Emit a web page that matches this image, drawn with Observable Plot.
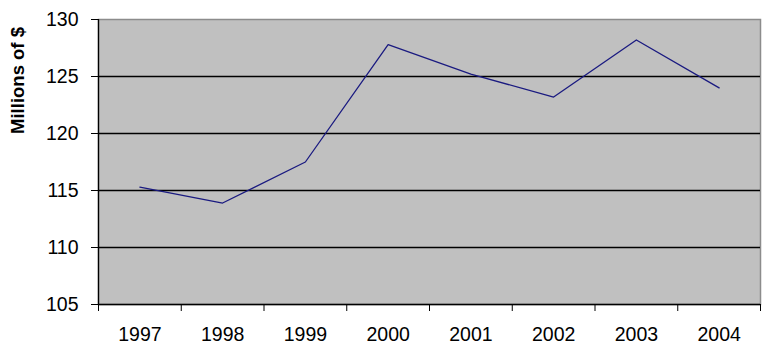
<!DOCTYPE html>
<html>
<head>
<meta charset="utf-8">
<script src="https://cdn.jsdelivr.net/npm/d3@7"></script>
<script src="https://cdn.jsdelivr.net/npm/@observablehq/plot@0.6"></script>
<style>
  html, body { margin: 0; padding: 0; background: #ffffff; }
  #chart svg { display: block; }
</style>
</head>
<body>
<div id="chart"></div>
<script>
const years = [1997, 1998, 1999, 2000, 2001, 2002, 2003, 2004];
const values = [115.3, 113.9, 117.5, 127.8, 125.2, 123.2, 128.2, 124.0];
const yTicks = [105, 110, 115, 120, 125, 130];
const gridValues = [110, 115, 120, 125];
const yLabel = "Millions of $";

const data = years.map((year, i) => ({year, value: values[i]}));
const boundaries = [...years.map(y => y - 0.5), years[years.length - 1] + 0.5];

const chart = Plot.plot({
  width: 768,
  height: 359,
  marginLeft: 98,
  marginRight: 8,
  marginTop: 19,
  marginBottom: 55,
  style: {fontFamily: "'Liberation Sans', Arial, sans-serif", fontSize: "19px", color: "#000", background: "#fff"},
  x: {domain: [boundaries[0], boundaries[boundaries.length - 1]]},
  y: {domain: [105, 130]},
  marks: [
    Plot.frame({fill: "#c0c0c0", stroke: "#8c8c8c", strokeWidth: 1.5}),
    Plot.ruleY(gridValues, {stroke: "#000", strokeWidth: 1.3}),
    Plot.ruleY([105], {stroke: "#000", strokeWidth: 1.3}),
    Plot.ruleX([boundaries[0]], {stroke: "#000", strokeWidth: 1.3}),
    Plot.axisY({ticks: yTicks, tickSize: 7, tickPadding: 13, label: null, fontSize: 19.5, stroke: "#000", strokeOpacity: 1}),
    Plot.axisX({ticks: boundaries, tickSize: 7, tickFormat: () => "", label: null, stroke: "#000", strokeOpacity: 1}),
    Plot.axisX({ticks: years, tickSize: 0, tickPadding: 23, tickFormat: d => String(d), label: null, fontSize: 19.5}),
    Plot.line(data, {x: "year", y: "value", stroke: "#1a1a80", strokeWidth: 1.3}),
    Plot.text([yLabel], {frameAnchor: "top-left", dx: -80, dy: 61, rotate: -90, fontWeight: "bold", fontSize: 18.5, textAnchor: "middle", lineAnchor: "middle", fill: "#000"})
  ]
});
document.getElementById("chart").appendChild(chart);
</script>
</body>
</html>
